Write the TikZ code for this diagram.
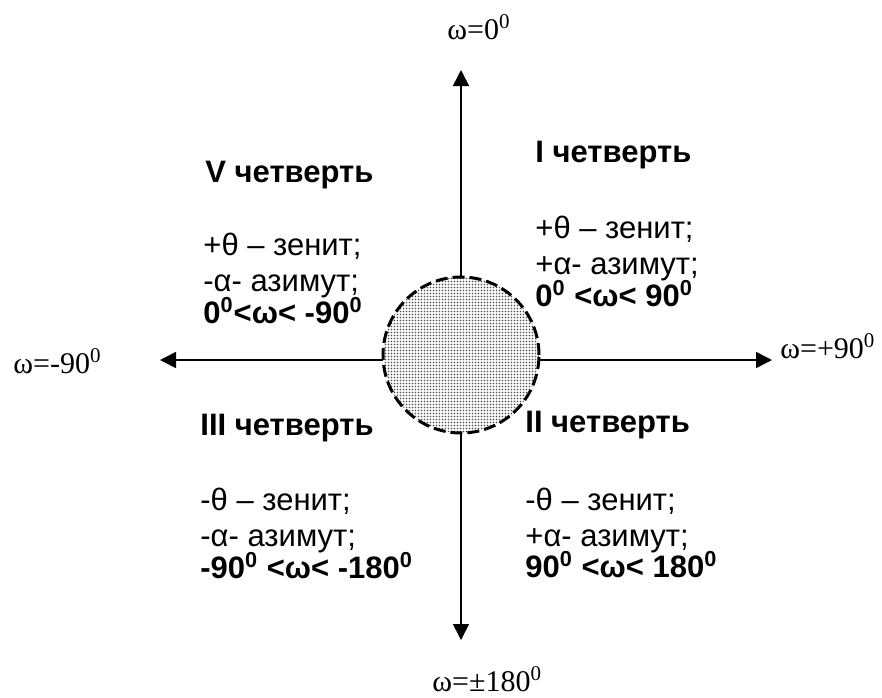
\documentclass[tikz,border=0pt]{standalone}
\usepackage{fontspec}
\setmainfont{Liberation Serif}
\setsansfont{Liberation Sans}
\usetikzlibrary{arrows.meta,patterns.meta}

\tikzdeclarepattern{
  name=finedots,
  type=uncolored,
  bottom left={(-.1pt,-.1pt)},
  top right={(1.6pt,1.6pt)},
  tile size={(1.5pt,1.5pt)},
  code={\fill (0.75pt,0.75pt) circle (0.42pt);}
}

\tikzset{
  axis/.style={line width=0.8pt, {Triangle[length=8pt,width=8pt]}-{Triangle[length=8pt,width=8pt]}},
  omega/.style={anchor=base west, inner sep=0pt, font=\fontsize{15}{17}\selectfont},
  quarter/.style={anchor=base west, inner sep=0pt, font=\sffamily\bfseries\fontsize{15.5}{17}\selectfont},
  bodyline/.style={anchor=base west, inner sep=0pt, font=\sffamily\fontsize{15.5}{17}\selectfont},
  boldline/.style={bodyline, font=\sffamily\bfseries\fontsize{15.5}{17}\selectfont},
  zone/.style={circle, draw, minimum size=78pt, inner sep=0pt, line width=1.5pt,
    dash pattern=on 6pt off 2.5pt, preaction={fill=white}, pattern=finedots, pattern color=black!70}
}

\begin{document}
\begin{tikzpicture}[x=0.5pt, y=-0.5pt]
  \useasboundingbox (0,0) rectangle (882,697);

  \coordinate (top) at (461,70);
  \coordinate (bottom) at (461,640);
  \coordinate (west) at (160,360);
  \coordinate (east) at (772,360);

  \draw[axis] (bottom) -- (top);
  \draw[axis] (west) -- (east);

  \node[zone] (c) at (461,355) {};

  \foreach \n/\x/\y/\t in {w0/447/39/{ω=0\textsuperscript{0}}, wm/13/373/{ω=-90\textsuperscript{0}},
      wp/780/358/{ω=+90\textsuperscript{0}}, ws/432/691/{ω=±180\textsuperscript{0}}} {
    \node[omega] (\n) at (\x,\y) {\t};
  }

  \node[quarter] (q1) at (535,162) {I четверть};
  \node[bodyline] (q1a) at (535,238) {+θ – зенит;};
  \node[bodyline] (q1b) at (535,274) {+α- азимут;};
  \node[boldline] (q1c) at (535,306) {0\textsuperscript{0} <ω< 90\textsuperscript{0}};

  \node[quarter] (q5) at (205,182) {V четверть};
  \node[bodyline] (q5a) at (203,255) {+θ – зенит;};
  \node[bodyline] (q5b) at (203,291) {-α- азимут;};
  \node[boldline] (q5c) at (203,323) {0\textsuperscript{0}<ω< -90\textsuperscript{0}};

  \node[quarter] (q2) at (525,432) {II четверть};
  \node[bodyline] (q2a) at (525,510) {-θ – зенит;};
  \node[bodyline] (q2b) at (525,546) {+α- азимут;};
  \node[boldline] (q2c) at (525,577) {90\textsuperscript{0} <ω< 180\textsuperscript{0}};

  \node[quarter] (q3) at (200,435) {III четверть};
  \node[bodyline] (q3a) at (200,510) {-θ – зенит;};
  \node[bodyline] (q3b) at (200,546) {-α- азимут;};
  \node[boldline] (q3c) at (200,578) {-90\textsuperscript{0} <ω< -180\textsuperscript{0}};
\end{tikzpicture}
\end{document}
